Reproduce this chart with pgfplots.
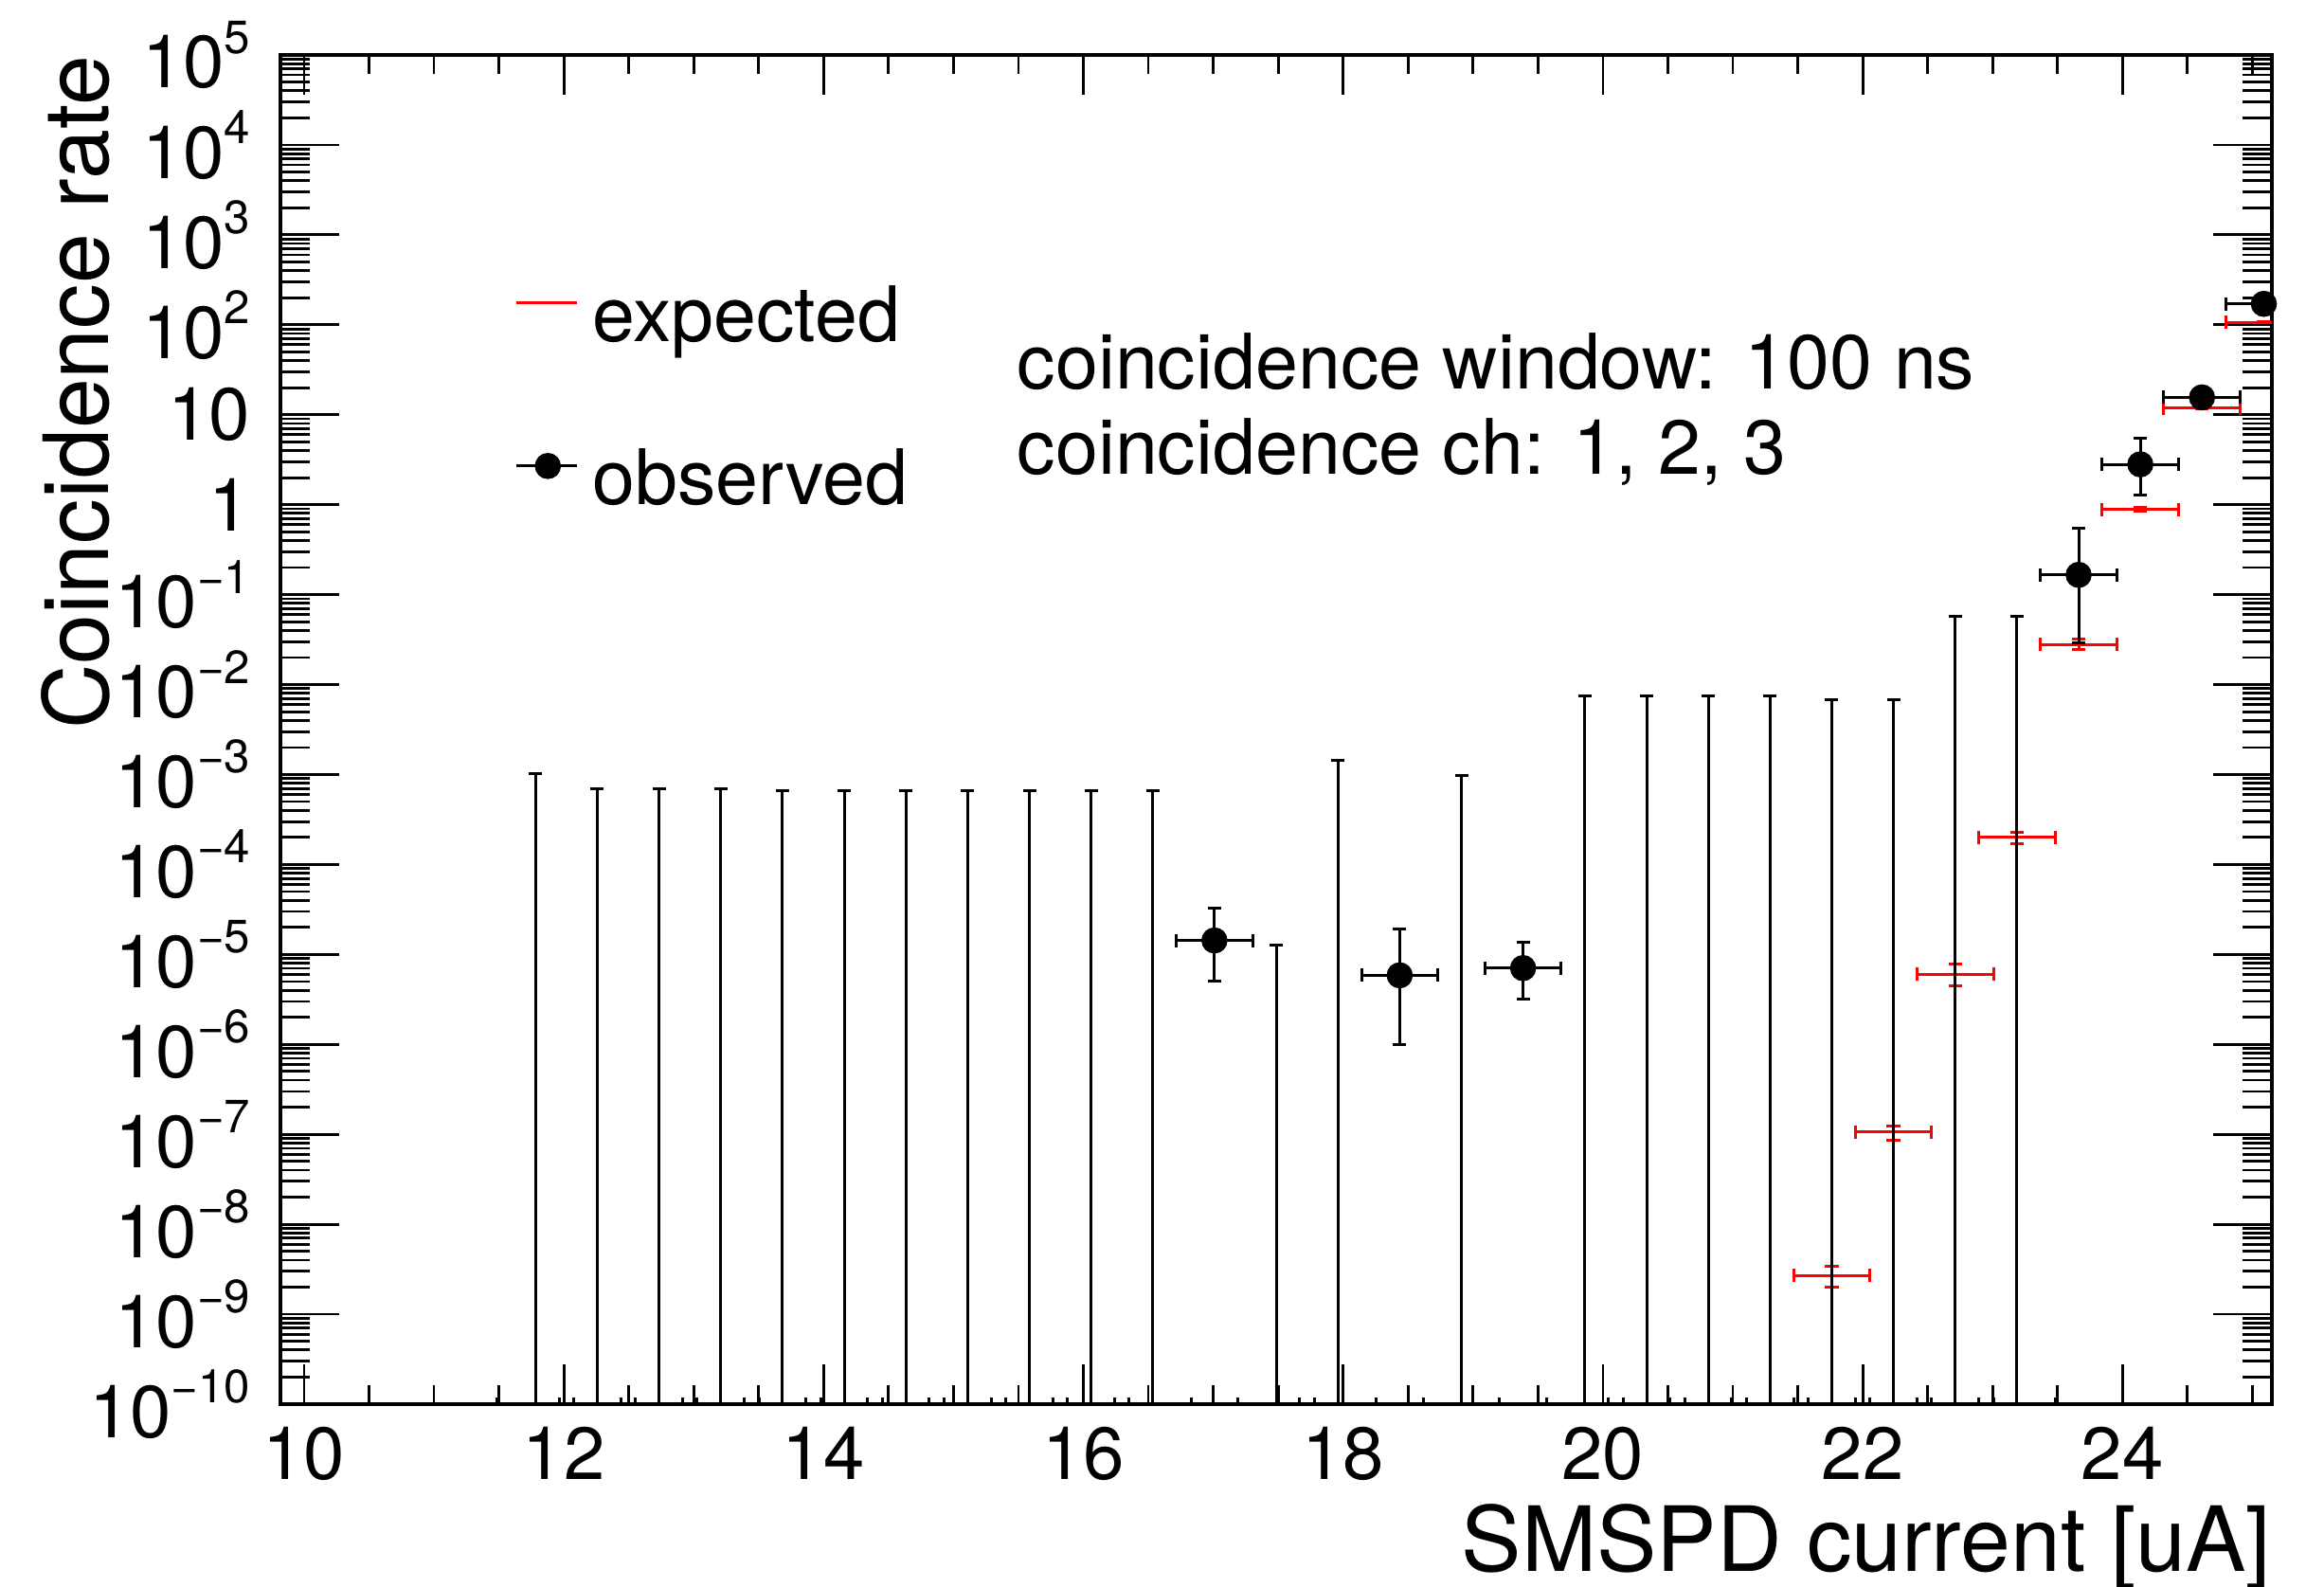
\documentclass[border=0pt]{standalone}
\usepackage{pgfplots}
\pgfplotsset{compat=1.18}
\usepackage{pgfplotstable}
\usepackage{fontspec}
\setmainfont{TeX Gyre Heros}

\newcommand{\tp}[1]{10\raisebox{9.2pt}{\fontsize{12.3pt}{13pt}\selectfont #1}}

% observed, non-zero
\pgfplotstableread{
x y ex eyp eym
17.009 1.43e-5 0.294 1.85e-5 9.3e-6
18.435 5.86e-6 0.294 1.31e-5 4.86e-6
19.385 7.05e-6 0.294 6.75e-6 3.85e-6
23.662 0.166 0.294 0.379 0.137
24.137 2.81 0.294 2.69 1.54
24.612 15.6 0.294 3.5 3.0
25.088 171 0.294 12 11
}\obs

% observed, zero counts (upper error only)
\pgfplotstableread{
x y ex eyp
11.782 1e-10 0.294 1.03e-3
12.257 1e-10 0.294 6.9e-4
12.732 1e-10 0.294 6.9e-4
13.208 1e-10 0.294 6.9e-4
13.683 1e-10 0.294 6.7e-4
14.158 1e-10 0.294 6.7e-4
14.633 1e-10 0.294 6.7e-4
15.108 1e-10 0.294 6.7e-4
15.584 1e-10 0.294 6.7e-4
16.059 1e-10 0.294 6.7e-4
16.534 1e-10 0.294 6.7e-4
17.484 1e-10 0.294 1.26e-5
17.960 1e-10 0.294 1.44e-3
18.910 1e-10 0.294 9.8e-4
19.860 1e-10 0.294 7.4e-3
20.336 1e-10 0.294 7.4e-3
20.811 1e-10 0.294 7.4e-3
21.286 1e-10 0.294 7.4e-3
21.761 1e-10 0.294 6.8e-3
22.236 1e-10 0.294 6.8e-3
22.712 1e-10 0.294 5.8e-2
23.187 1e-10 0.294 5.8e-2
}\obszero

% expected
\pgfplotstableread{
x y ex eyp eym
21.761 2.7e-9 0.294 0.7e-9 0.7e-9
22.236 1.06e-7 0.294 0.19e-7 0.2e-7
22.712 6.03e-6 0.294 1.8e-6 1.6e-6
23.187 2.0e-4 0.294 0.3e-4 0.3e-4
23.662 0.028 0.294 0.0038 0.0037
24.137 0.885 0.294 0.04 0.04
24.612 11.9 0.294 0.4 0.4
25.088 107 0.294 1.5 1.5
}\expd

\begin{document}
\begin{tikzpicture}
\begin{axis}[
  at={(0,0)}, anchor=south west,
  scale only axis, width=525.5pt, height=356pt,
  ymode=log, log basis y=10,
  xmin=9.818, xmax=25.15, ymin=1e-10, ymax=1e5,
  axis line style={line width=0.8pt, black},
  every tick/.style={black, line width=0.7pt},
  tick align=inside, tick pos=both,
  major tick length=15.6pt, minor tick length=7.8pt,
  xtick style={/pgfplots/major tick length=10.5pt, /pgfplots/minor tick length=5.1pt},
  xtick={10,12,14,16,18,20,22,24},
  xticklabels={10,12,14,16,18,20,22,24},
  minor xtick={10.5,11,11.5,12.5,13,13.5,14.5,15,15.5,16.5,17,17.5,18.5,19,19.5,20.5,21,21.5,22.5,23,23.5,24.5,25},
  ytick={1e-10,1e-9,1e-8,1e-7,1e-6,1e-5,1e-4,1e-3,1e-2,1e-1,1,10,100,1000,10000,100000},
  yticklabels={\tp{−10},\tp{−9},\tp{−8},\tp{−7},\tp{−6},\tp{−5},\tp{−4},\tp{−3},\tp{−2},\tp{−1},1,10,\tp{2},\tp{3},\tp{4},\tp{5}},
  minor ytick={
    2e-10,3e-10,4e-10,5e-10,6e-10,7e-10,8e-10,9e-10,
    2e-9,3e-9,4e-9,5e-9,6e-9,7e-9,8e-9,9e-9,
    2e-8,3e-8,4e-8,5e-8,6e-8,7e-8,8e-8,9e-8,
    2e-7,3e-7,4e-7,5e-7,6e-7,7e-7,8e-7,9e-7,
    2e-6,3e-6,4e-6,5e-6,6e-6,7e-6,8e-6,9e-6,
    2e-5,3e-5,4e-5,5e-5,6e-5,7e-5,8e-5,9e-5,
    2e-4,3e-4,4e-4,5e-4,6e-4,7e-4,8e-4,9e-4,
    2e-3,3e-3,4e-3,5e-3,6e-3,7e-3,8e-3,9e-3,
    2e-2,3e-2,4e-2,5e-2,6e-2,7e-2,8e-2,9e-2,
    0.2,0.3,0.4,0.5,0.6,0.7,0.8,0.9,
    2,3,4,5,6,7,8,9,
    20,30,40,50,60,70,80,90,
    200,300,400,500,600,700,800,900,
    2000,3000,4000,5000,6000,7000,8000,9000,
    20000,30000,40000,50000,60000,70000,80000,90000},
  tick label style={font=\fontsize{19.5pt}{20pt}\selectfont},
  xticklabel style={inner sep=0pt, anchor=north, yshift=-5.75pt},
  yticklabel style={inner sep=0pt, anchor=east, xshift=-7.75pt},
  legend cell align=left,
  legend style={draw=none, fill=none, inner sep=0pt, at={(0.11751,0.82865)}, anchor=north west,
    font=\fontsize{20.2pt}{24pt}\selectfont, row sep=24.2pt, column sep=3.6pt,
    nodes={inner sep=0pt, text height=14.5pt, text depth=4.3pt}},
]
\addlegendimage{legend image code/.code={\draw[red, line width=0.75pt] (0pt,5.15pt) -- (16pt,5.15pt);}}
\addlegendentry{expected}
\addlegendimage{legend image code/.code={\draw[black, line width=0.75pt] (0pt,5.15pt) -- (16pt,5.15pt); \fill[black] (8.25pt,5.15pt) circle (3.25pt);}}
\addlegendentry{observed}

% expected
\addplot[forget plot, draw=none, mark=none,
  error bars/.cd, x dir=both, x explicit, y dir=both, y explicit,
  error bar style={draw=red, line width=0.75pt},
  error mark=-,
  error mark options={rotate=90, draw=red, line width=0.75pt, mark size=1.8pt}]
  table[x=x, y=y, x error=ex, y error plus=eyp, y error minus=eym]{\expd};

% observed zero counts
\addplot[forget plot, draw=none, mark=none,
  error bars/.cd, x dir=both, x explicit, y dir=plus, y explicit,
  error bar style={draw=black, line width=0.75pt},
  error mark=-,
  error mark options={rotate=90, draw=black, line width=0.75pt, mark size=1.75pt}]
  table[x=x, y=y, x error=ex, y error plus=eyp]{\obszero};

% observed
\addplot[forget plot, black, only marks, mark=*, mark size=3.25pt, mark options={fill=black, draw=black},
  error bars/.cd, x dir=both, x explicit, y dir=both, y explicit,
  error bar style={black, line width=0.75pt},
  error mark=-,
  error mark options={rotate=90, black, line width=0.75pt, mark size=1.75pt}]
  table[x=x, y=y, x error=ex, y error plus=eyp, y error minus=eym]{\obs};
\end{axis}

\node[anchor=base west, inner sep=0pt, font=\fontsize{20.2pt}{24pt}\selectfont] at (194.25pt,268pt) {coincidence window: 100 ns};
\node[anchor=base west, inner sep=0pt, font=\fontsize{20.2pt}{24pt}\selectfont] at (194.25pt,245.4pt) {coincidence ch: 1, 2, 3};
\node[anchor=base east, inner sep=0pt, font=\fontsize{23.75pt}{28pt}\selectfont] at (525.5pt,-44pt) {SMSPD current [uA]};
\node[rotate=90, anchor=base east, inner sep=0pt, font=\fontsize{23.75pt}{28pt}\selectfont] at (-45.25pt,356pt) {Coincidence rate};

\pgfresetboundingbox
\path[use as bounding box] (-74pt,-48pt) rectangle (539.25pt,370.5pt);
\end{tikzpicture}
\end{document}
